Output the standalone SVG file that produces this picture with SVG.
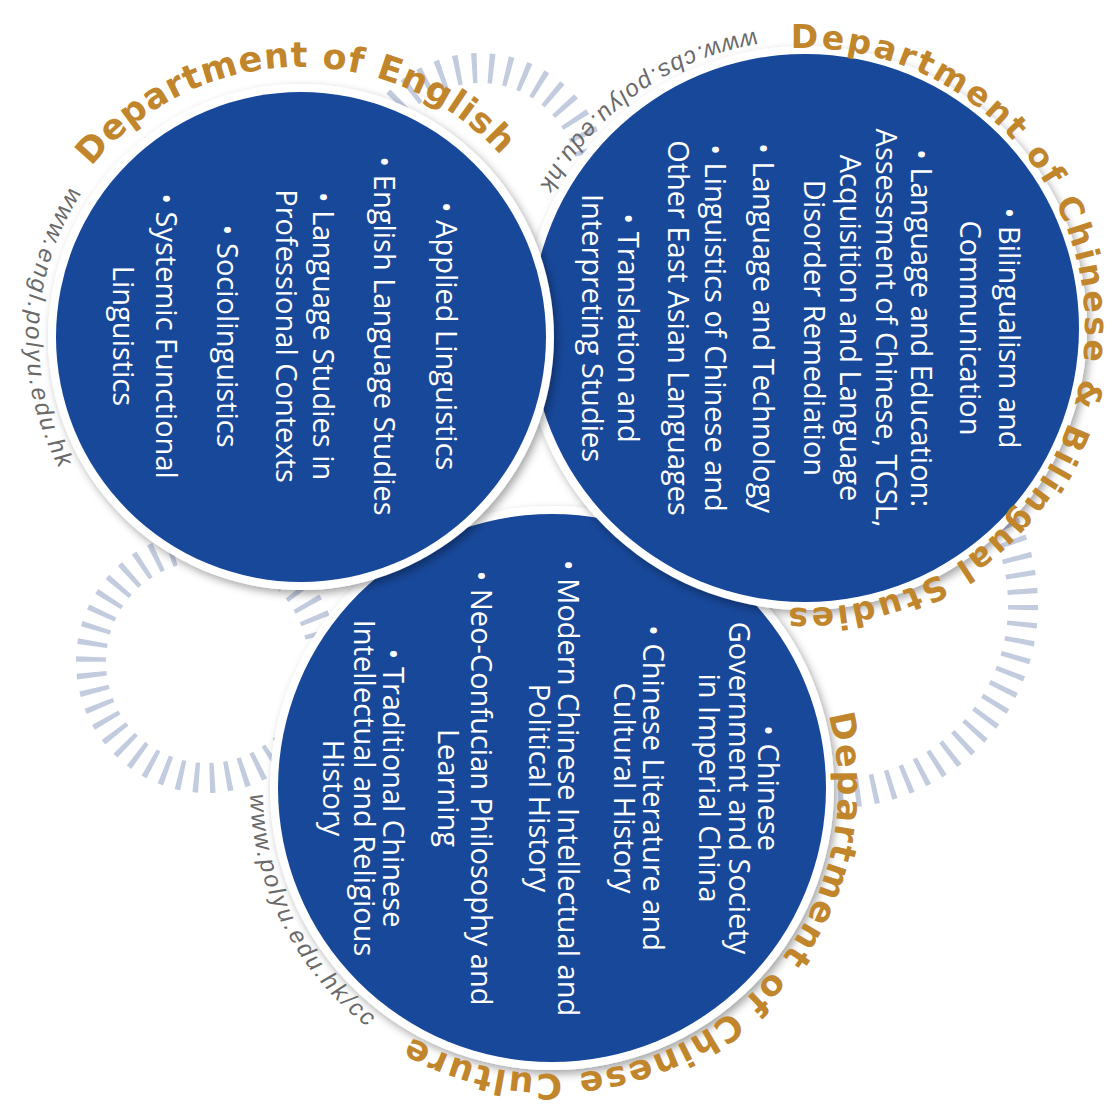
<svg xmlns="http://www.w3.org/2000/svg" width="1116" height="1112" viewBox="0 0 1116 1112">
<defs>
<style>
.ticks{fill:none;stroke:#c3cbdf;stroke-width:30}
.halo{fill:#ffffff;filter:url(#sh)}
.disc{fill:#18489a}
.body{font-family:"Open Sans","Liberation Sans",sans-serif;font-size:29px;fill:#ffffff;text-anchor:middle}
.title{font-family:"DejaVu Sans","Liberation Sans",sans-serif;font-weight:bold;font-size:35px;fill:#c1862c;letter-spacing:2px}
.url{font-family:"Liberation Sans",sans-serif;font-style:italic;font-size:24px;fill:#6a6a6a;letter-spacing:2.5px}
</style>
<filter id="sh" x="-20%" y="-20%" width="140%" height="140%">
<feGaussianBlur in="SourceAlpha" stdDeviation="4"/>
<feOffset dx="3" dy="4" result="b"/>
<feFlood flood-color="#000" flood-opacity="0.35"/>
<feComposite in2="b" operator="in"/>
<feMerge><feMergeNode/><feMergeNode in="SourceGraphic"/></feMerge>
</filter>
<path id="pEngT" d="M33.96,297.09 A270,270 0 0 1 565.58,283.17"/>
<path id="pEngU" d="M216.02,75.46 A275,275 0 0 0 197.98,591.97"/>
<path id="pChiT" d="M758.79,51.84 A280,280 0 1 1 753.97,603.31"/>
<path id="pChiU" d="M919.0,50.0 A300,300 0 0 0 505.5,349.0"/>
<path id="pCulT" d="M745.22,577.14 A286,286 0 1 1 298.32,920.06"/>
<path id="pCulU" d="M298.72,623.52 A302,302 0 0 0 536.19,1089.59"/>
</defs>
<rect width="1116" height="1112" fill="#ffffff"/>
<g id="tick-rings">
<circle class="ticks" cx="480" cy="181" r="113" stroke-dasharray="5 11.9"/>
<circle class="ticks" cx="207" cy="662" r="116" stroke-dasharray="5 10.84"/>
<circle class="ticks" cx="835" cy="605" r="188" stroke-dasharray="5 11.88"/>
</g>
<g id="connectors"></g>
<g id="dept-chinese-culture">
<circle class="halo" cx="552" cy="788" r="282"/>
<circle class="disc" cx="552" cy="788" r="274"/>
<g transform="translate(552,788) rotate(90)">
<text class="body" x="0" y="-206">• Chinese</text>
<text class="body" x="0" y="-177">Government and Society</text>
<text class="body" x="0" y="-147">in Imperial China</text>
<text class="body" x="0" y="-91">• Chinese Literature and</text>
<text class="body" x="0" y="-62">Cultural History</text>
<text class="body" x="0" y="-6">• Modern Chinese Intellectual and</text>
<text class="body" x="0" y="23">Political History</text>
<text class="body" x="0" y="81">• Neo-Confucian Philosophy and</text>
<text class="body" x="0" y="114">Learning</text>
<text class="body" x="0" y="169">• Traditional Chinese</text>
<text class="body" x="0" y="198">Intellectual and Religious</text>
<text class="body" x="0" y="229">History</text>
</g>
<text class="title"><textPath href="#pCulT" startOffset="50%" text-anchor="middle">Department of Chinese Culture</textPath></text>
<text class="url"><textPath href="#pCulU" startOffset="50%" text-anchor="middle">www.polyu.edu.hk/cc</textPath></text>
</g>
<g id="dept-chinese-bilingual">
<circle class="halo" cx="805" cy="328" r="282"/>
<circle class="disc" cx="805" cy="328" r="274"/>
<g transform="translate(805,328) rotate(90)">
<text class="body" x="0" y="-194">• Bilingualism and</text>
<text class="body" x="0" y="-155">Communication</text>
<text class="body" x="0" y="-106">• Language and Education:</text>
<text class="body" x="0" y="-71">Assessment of Chinese, TCSL,</text>
<text class="body" x="0" y="-35">Acquisition and Language</text>
<text class="body" x="0" y="1">Disorder Remediation</text>
<text class="body" x="0" y="52">• Language and Technology</text>
<text class="body" x="0" y="100">• Linguistics of Chinese and</text>
<text class="body" x="0" y="137">Other East Asian Languages</text>
<text class="body" x="0" y="187">• Translation and</text>
<text class="body" x="0" y="223">Interpreting Studies</text>
</g>
<text class="title" style="font-size:33px;letter-spacing:2.8px"><textPath href="#pChiT" startOffset="50%" text-anchor="middle">Department of Chinese &amp; Bilingual Studies</textPath></text>
<text class="url" style="letter-spacing:2px"><textPath href="#pChiU" startOffset="50%" text-anchor="middle">www.cbs.polyu.edu.hk</textPath></text>
</g>
<g id="dept-english">
<circle class="halo" cx="301" cy="337" r="253"/>
<circle class="disc" cx="301" cy="337" r="245"/>
<g transform="translate(301,337) rotate(90)">
<text class="body" x="-1" y="-135">• Applied Linguistics</text>
<text class="body" x="-1" y="-73">• English Language Studies</text>
<text class="body" x="-1" y="-12">• Language Studies in</text>
<text class="body" x="-1" y="25">Professional Contexts</text>
<text class="body" x="-1" y="84">• Sociolinguistics</text>
<text class="body" x="-1" y="145">• Systemic Functional</text>
<text class="body" x="-1" y="188">Linguistics</text>
</g>
<text class="title" style="letter-spacing:1px"><textPath href="#pEngT" startOffset="50%" text-anchor="middle">Department of English</textPath></text>
<text class="url"><textPath href="#pEngU" startOffset="50%" text-anchor="middle">www.engl.polyu.edu.hk</textPath></text>
</g>
</svg>
